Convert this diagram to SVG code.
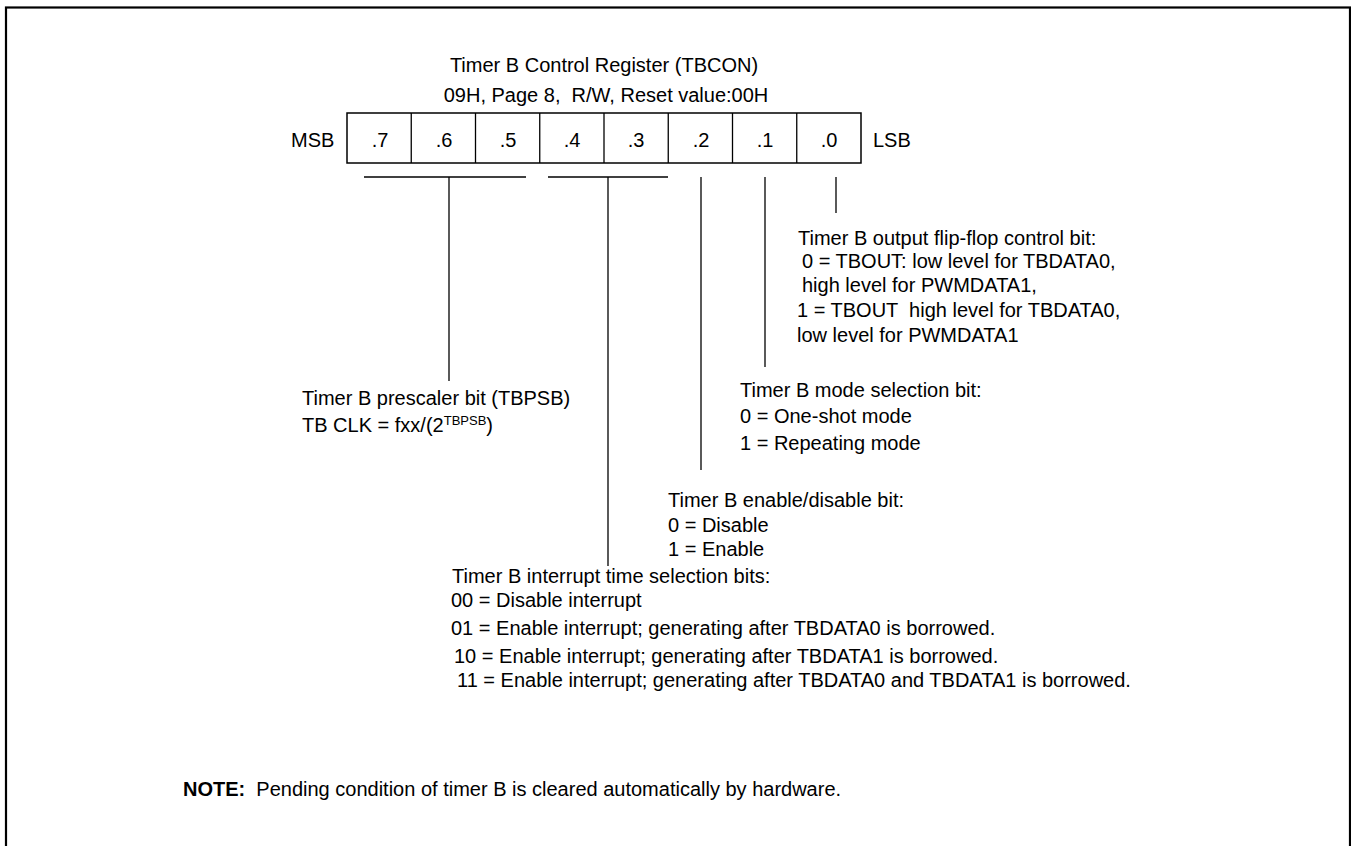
<svg xmlns="http://www.w3.org/2000/svg" width="1351" height="846" viewBox="0 0 1351 846">
<style>
text{font-family:"Liberation Sans",Arial,sans-serif;font-size:20px;fill:#000}
.c{text-anchor:middle}
.ln{stroke:#000;stroke-width:1.3;fill:none}
.cell{stroke:#000;stroke-width:1.5;fill:#fff}
</style>
<rect x="6" y="7.5" width="1344" height="900" fill="#fff" stroke="#000" stroke-width="2.2"/>
<g id="title">
<text class="c" x="604" y="72">Timer B Control Register (TBCON)</text>
<text class="c" x="606" y="102" style="white-space:pre">09H, Page 8,  R/W, Reset value:00H</text>
</g>
<g id="register">
<text x="291" y="147">MSB</text>
<rect class="cell" x="347" y="113" width="514" height="50"/>
<line class="ln" x1="411.25" y1="113" x2="411.25" y2="163"/>
<line class="ln" x1="475.5" y1="113" x2="475.5" y2="163"/>
<line class="ln" x1="539.75" y1="113" x2="539.75" y2="163"/>
<line class="ln" x1="604" y1="113" x2="604" y2="163"/>
<line class="ln" x1="668.25" y1="113" x2="668.25" y2="163"/>
<line class="ln" x1="732.5" y1="113" x2="732.5" y2="163"/>
<line class="ln" x1="796.75" y1="113" x2="796.75" y2="163"/>
<text class="c" x="380" y="147">.7</text>
<text class="c" x="444" y="147">.6</text>
<text class="c" x="508" y="147">.5</text>
<text class="c" x="572" y="147">.4</text>
<text class="c" x="636" y="147">.3</text>
<text class="c" x="701" y="147">.2</text>
<text class="c" x="765" y="147">.1</text>
<text class="c" x="829" y="147">.0</text>
<text x="873" y="147">LSB</text>
</g>
<g id="connectors">
<line class="ln" x1="364" y1="177" x2="526" y2="177"/>
<line class="ln" x1="449" y1="177" x2="449" y2="381"/>
<line class="ln" x1="548" y1="177" x2="668" y2="177"/>
<line class="ln" x1="608" y1="177" x2="608" y2="566"/>
<line class="ln" x1="701" y1="177" x2="701" y2="470"/>
<line class="ln" x1="765" y1="177" x2="765" y2="367"/>
<line class="ln" x1="836" y1="177" x2="836" y2="213"/>
</g>
<g id="bit0">
<text x="798" y="245">Timer B output flip-flop control bit:</text>
<text x="802" y="268">0 = TBOUT: low level for TBDATA0,</text>
<text x="802" y="292">high level for PWMDATA1,</text>
<text x="797" y="317" style="white-space:pre">1 = TBOUT  high level for TBDATA0,</text>
<text x="797" y="342">low level for PWMDATA1</text>
</g>
<g id="bit1">
<text x="740" y="397">Timer B mode selection bit:</text>
<text x="740" y="423">0 = One-shot mode</text>
<text x="740" y="450">1 = Repeating mode</text>
</g>
<g id="bit76">
<text x="302" y="405">Timer B prescaler bit (TBPSB)</text>
<text x="302" y="432">TB CLK = fxx/(2<tspan dy="-7" font-size="13">TBPSB</tspan><tspan dy="7">)</tspan></text>
</g>
<g id="bit2">
<text x="668" y="507">Timer B enable/disable bit:</text>
<text x="668" y="532">0 = Disable</text>
<text x="668" y="556">1 = Enable</text>
</g>
<g id="bit43">
<text x="452" y="583">Timer B interrupt time selection bits:</text>
<text x="451" y="607">00 = Disable interrupt</text>
<text x="451" y="635">01 = Enable interrupt; generating after TBDATA0 is borrowed.</text>
<text x="454" y="663">10 = Enable interrupt; generating after TBDATA1 is borrowed.</text>
<text x="457" y="687">11 = Enable interrupt; generating after TBDATA0 and TBDATA1 is borrowed.</text>
</g>
<g id="note">
<text x="183" y="796" style="white-space:pre"><tspan font-weight="bold">NOTE:</tspan>  Pending condition of timer B is cleared automatically by hardware.</text>
</g>
</svg>
